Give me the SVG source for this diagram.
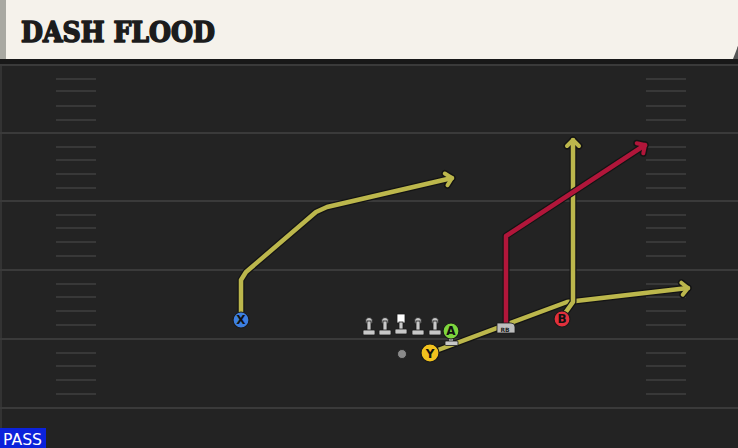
<svg xmlns="http://www.w3.org/2000/svg" width="738" height="448" viewBox="0 0 738 448">
<defs>
<style>
.yard{stroke:#3a3a3a;stroke-width:2}
.hash{stroke:#383838;stroke-width:2}
.out{fill:none;stroke:#141414;stroke-width:7;stroke-linejoin:round;stroke-linecap:round}
.olive{fill:none;stroke:#bcb74c;stroke-width:4.5;stroke-linejoin:round;stroke-linecap:round}
.red{fill:none;stroke:#b1163a;stroke-width:4.5;stroke-linejoin:round;stroke-linecap:round}
.lbl{font-family:"DejaVu Sans","Liberation Sans",sans-serif;font-weight:bold;font-size:12px;fill:#111;text-anchor:middle}
.lineman{fill:#c8c8c8;stroke:#1a1a1a;stroke-width:0.8}
</style>
<marker id="ahOut" viewBox="-10 -10 20 20" markerWidth="20" markerHeight="20" refX="0" refY="0" orient="auto" markerUnits="userSpaceOnUse">
<path d="M-6,-6 L0,0 L-6,6" fill="none" stroke="#141414" stroke-width="7" stroke-linecap="round" stroke-linejoin="round"/>
</marker>
<marker id="ahOlive" viewBox="-10 -10 20 20" markerWidth="20" markerHeight="20" refX="0" refY="0" orient="auto" markerUnits="userSpaceOnUse">
<path d="M-6,-6 L0,0 L-6,6" fill="none" stroke="#bcb74c" stroke-width="4" stroke-linecap="round" stroke-linejoin="round"/>
</marker>
<marker id="ahRed" viewBox="-10 -10 20 20" markerWidth="20" markerHeight="20" refX="0" refY="0" orient="auto" markerUnits="userSpaceOnUse">
<path d="M-6,-6 L0,0 L-6,6" fill="none" stroke="#b1163a" stroke-width="4" stroke-linecap="round" stroke-linejoin="round"/>
</marker>
</defs>

<!-- field -->
<rect x="0" y="0" width="738" height="448" fill="#232323"/>
<line x1="1" y1="60" x2="1" y2="448" stroke="#333" stroke-width="2"/>
<g id="field-lines">
<line class="yard" x1="0" y1="65" x2="738" y2="65"/>
<line class="yard" x1="0" y1="133" x2="738" y2="133"/>
<line class="yard" x1="0" y1="201" x2="738" y2="201"/>
<line class="yard" x1="0" y1="270" x2="738" y2="270"/>
<line class="yard" x1="0" y1="339" x2="738" y2="339"/>
<line class="yard" x1="0" y1="408" x2="738" y2="408"/>
</g>
<g id="hashes">
<path class="hash" d="M56,79H96M56,91H96M56,106H96M56,120H96 M56,147H96M56,160H96M56,174H96M56,188H96 M56,215H96M56,228H96M56,242H96M56,256H96 M56,284H96M56,297H96M56,311H96M56,325H96 M56,353H96M56,366H96M56,380H96M56,394H96"/>
<path class="hash" d="M646,79H686M646,91H686M646,106H686M646,120H686 M646,147H686M646,160H686M646,174H686M646,188H686 M646,215H686M646,228H686M646,242H686M646,256H686 M646,284H686M646,297H686M646,311H686M646,325H686 M646,353H686M646,366H686M646,380H686M646,394H686"/>
</g>

<!-- header -->
<g id="header">
<rect x="0" y="59" width="738" height="5" fill="#181818"/>
<polygon points="0,0 738,0 738,46 735,59 0,59" fill="#f5f2eb"/>
<polygon points="738,46 738,59 733,59" fill="#555"/>
<rect x="0" y="0" width="6" height="59" fill="#a9a9a2"/>
<text x="21" y="42" font-family="'DejaVu Serif','Liberation Serif',serif" font-weight="bold" font-size="27" textLength="194" lengthAdjust="spacingAndGlyphs" fill="#1c1c1c" stroke="#1c1c1c" stroke-width="1.6" stroke-linejoin="round">DASH FLOOD</text>
</g>

<!-- connectors -->
<g id="routes">
<path class="out" d="M241,318 L241,280 L246,272 L316,212 L327,207 L452,178" marker-end="url(#ahOut)"/>
<path class="olive" d="M241,318 L241,280 L246,272 L316,212 L327,207 L452,178" marker-end="url(#ahOlive)"/>
<path class="out" d="M430,353 L567,302 L688,288" marker-end="url(#ahOut)"/>
<path class="olive" d="M430,353 L567,302 L688,288" marker-end="url(#ahOlive)"/>
<path class="out" d="M563,316 L573,302 L573,140" marker-end="url(#ahOut)"/>
<path class="olive" d="M563,316 L573,302 L573,140" marker-end="url(#ahOlive)"/>
<path class="out" d="M506,326 L506,236 L645,145" marker-end="url(#ahOut)"/>
<path class="red" d="M506,326 L506,236 L645,145" marker-end="url(#ahRed)"/>
</g>

<!-- offensive line -->
<g id="oline">
<g id="lt"><circle class="lineman" cx="369" cy="321" r="3.5"/><rect class="lineman" x="367" y="321" width="4" height="10"/><rect class="lineman" x="363" y="330" width="12" height="5" rx="1"/></g>
<g id="lg"><circle class="lineman" cx="385" cy="321" r="3.5"/><rect class="lineman" x="383" y="321" width="4" height="10"/><rect class="lineman" x="379" y="330" width="12" height="5" rx="1"/></g>
<g id="c"><rect x="397" y="314" width="8" height="9" fill="#ffffff" stroke="#1a1a1a" stroke-width="0.8"/><rect class="lineman" x="399" y="322" width="4" height="8"/><rect class="lineman" x="395" y="329" width="12" height="5" rx="1"/></g>
<g id="rg"><circle class="lineman" cx="418" cy="321" r="3.5"/><rect class="lineman" x="416" y="321" width="4" height="10"/><rect class="lineman" x="412" y="330" width="12" height="5" rx="1"/></g>
<g id="rt"><circle class="lineman" cx="435" cy="321" r="3.5"/><rect class="lineman" x="433" y="321" width="4" height="10"/><rect class="lineman" x="429" y="330" width="12" height="5" rx="1"/></g>
</g>

<g id="qb"><circle cx="402" cy="354" r="4.5" fill="#8a8a8a" stroke="#1a1a1a" stroke-width="0.8"/></g>

<g id="player-a">
<rect x="449" y="337" width="4" height="5" fill="#c8c8c8"/>
<rect x="445" y="341" width="13" height="4.5" rx="1" fill="#c8c8c8" stroke="#1a1a1a" stroke-width="0.8"/>
<circle cx="451" cy="331" r="8" fill="#7ed63e" stroke="#1a1a1a" stroke-width="1.2"/>
<text class="lbl" x="451" y="335.3">A</text>
</g>

<g id="player-y">
<circle cx="430" cy="353" r="9" fill="#f2c21e" stroke="#1a1a1a" stroke-width="1.2"/>
<text class="lbl" x="430" y="357.5">Y</text>
</g>

<g id="player-x">
<circle cx="241" cy="320" r="8" fill="#3d7fe0" stroke="#1a1a1a" stroke-width="1.2"/>
<text class="lbl" x="241" y="324.3">X</text>
</g>

<g id="player-b">
<circle cx="562" cy="319" r="8" fill="#e2303c" stroke="#1a1a1a" stroke-width="1.2"/>
<text class="lbl" x="562" y="323.3">B</text>
</g>

<g id="player-rb">
<path d="M497,323 H511 Q515,323 515,327 V333 H497 Z" fill="#bdbdbd" stroke="#1a1a1a" stroke-width="0.8"/>
<text x="505" y="331.5" font-family="'DejaVu Sans','Liberation Sans',sans-serif" font-weight="bold" font-size="6" fill="#222" text-anchor="middle">RB</text>
</g>

<g id="pass-tag">
<rect x="0" y="428" width="46" height="20" fill="#0b22db"/>
<text x="3" y="444.5" font-family="'DejaVu Sans','Liberation Sans',sans-serif" font-size="15" textLength="39" lengthAdjust="spacingAndGlyphs" fill="#ffffff">PASS</text>
</g>
</svg>
